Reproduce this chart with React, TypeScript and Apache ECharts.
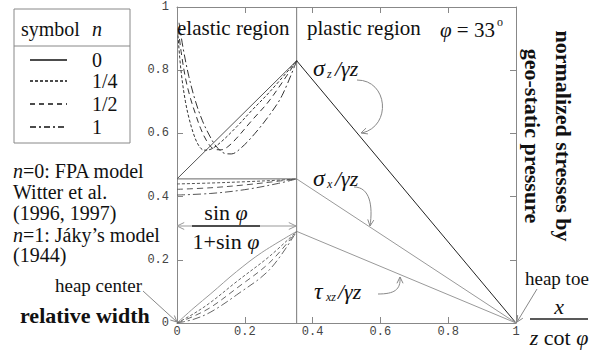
import React, { useEffect, useRef } from "react";
import * as echarts from "echarts";

// ---- data ----
const boundaryX = 0.353; // sinφ/(1+sinφ), φ = 33°
const xTickLabels = ["0", "0.2", "0.4", "0.6", "0.8", "1"];
const yTickLabels = ["0", "0.2", "0.4", "0.6", "0.8", "1"];
const legendNames = ["0", "1/4", "1/2", "1"];

// elastic region, σz/γz
const sigmaZ_n0 = [[0, 0.456], [0.353, 0.83]];
const sigmaZ_n14 = [[0.003, 0.91], [0.008, 0.84], [0.015, 0.77], [0.025, 0.70], [0.035, 0.65], [0.05, 0.595], [0.065, 0.56], [0.08, 0.547], [0.1, 0.55], [0.13, 0.573], [0.176, 0.621], [0.22, 0.672], [0.274, 0.732], [0.353, 0.83]];
const sigmaZ_n12 = [[0.004, 0.93], [0.012, 0.86], [0.025, 0.775], [0.04, 0.71], [0.055, 0.66], [0.07, 0.615], [0.09, 0.572], [0.11, 0.55], [0.13, 0.548], [0.15, 0.558], [0.176, 0.585], [0.22, 0.64], [0.274, 0.706], [0.353, 0.83]];
const sigmaZ_n1 = [[0.006, 0.95], [0.018, 0.87], [0.035, 0.78], [0.055, 0.70], [0.075, 0.64], [0.095, 0.595], [0.115, 0.56], [0.14, 0.537], [0.16, 0.535], [0.19, 0.555], [0.23, 0.6], [0.274, 0.66], [0.31, 0.72], [0.353, 0.83]];

// elastic region, σx/γz
const sigmaX_n0 = [[0, 0.456], [0.353, 0.456]];
const sigmaX_n14 = [[0, 0.44], [0.1, 0.443], [0.2, 0.447], [0.3, 0.452], [0.353, 0.456]];
const sigmaX_n12 = [[0, 0.423], [0.1, 0.428], [0.2, 0.437], [0.3, 0.449], [0.353, 0.456]];
const sigmaX_n1 = [[0, 0.405], [0.1, 0.41], [0.2, 0.422], [0.3, 0.442], [0.353, 0.456]];

// elastic region, τxz/γz
const tau_n0 = [[0, 0], [0.05, 0.048], [0.1, 0.093], [0.176, 0.163], [0.25, 0.223], [0.353, 0.29]];
const tau_n14 = [[0, 0], [0.05, 0.03], [0.1, 0.066], [0.176, 0.131], [0.274, 0.212], [0.353, 0.29]];
const tau_n12 = [[0, 0], [0.05, 0.022], [0.1, 0.05], [0.176, 0.11], [0.274, 0.192], [0.353, 0.29]];
const tau_n1 = [[0, 0], [0.05, 0.012], [0.1, 0.035], [0.176, 0.089], [0.274, 0.17], [0.353, 0.29]];

// plastic region
const plasticSigmaZ = [[0.353, 0.83], [1, 0]];
const plasticSigmaX = [[0.353, 0.456], [1, 0]];
const plasticTau = [[0.353, 0.29], [1, 0]];
const boundaryLine = [[boundaryX, 0], [boundaryX, 1]];

const SERIF = "Liberation Serif";
const DASH = {
  n0: "solid" as any,
  n14: [3, 2],
  n12: [6, 4],
  n1: [8, 3, 2, 3],
};

let measureCtx: CanvasRenderingContext2D | null = null;
function measure(text: string, size: number, italic: boolean, bold = false) {
  if (!measureCtx) measureCtx = document.createElement("canvas").getContext("2d");
  if (!measureCtx) return text.length * size * 0.5;
  measureCtx.font = `${italic ? "italic " : ""}${bold ? "bold " : ""}${size}px "Liberation Serif"`;
  return measureCtx.measureText(text).width;
}

function line(name: string, data: number[][], color: string, type: any, smooth = false, width = 1) {
  return {
    name,
    type: "line",
    data,
    symbol: "none",
    smooth: smooth ? 0.35 : false,
    silent: true,
    lineStyle: { color, width, type },
    z: 3,
  };
}

function txt(x: number, y: number, text: string, size: number, opts: any = {}) {
  const align = opts.align || "left";
  const va = opts.va || "middle";
  return {
    type: "text",
    x,
    y,
    rotation: opts.rotation || 0,
    z: 20,
    style: {
      legacy: false,
      text,
      fontFamily: SERIF,
      fontSize: size,
      fontStyle: opts.italic ? "italic" : "normal",
      fontWeight: opts.bold ? "bold" : "normal",
      fill: opts.color || "#111",
      align,
      verticalAlign: va,
    },
  };
}

// run of mixed italic / upright pieces; parts: [text, italic]
function runs(x: number, y: number, parts: [string, boolean][], size: number, align: "left" | "center" = "left") {
  const widths = parts.map(([t, it]) => measure(t, size, it));
  const total = widths.reduce((a, b) => a + b, 0);
  let cx = align === "center" ? x - total / 2 : x;
  const out: any[] = [];
  parts.forEach(([t, it], k) => {
    out.push(txt(cx, y, t, size, { italic: it }));
    cx += widths[k];
  });
  return out;
}

function seg(x1: number, y1: number, x2: number, y2: number, color = "#888", width = 1, dash?: number[]) {
  return {
    type: "line",
    z: 20,
    shape: { x1, y1, x2, y2 },
    style: { stroke: color, lineWidth: width, lineDash: dash },
  };
}

function head(x: number, y: number, angle: number, color = "#888", len = 7) {
  const a1 = angle + Math.PI - 0.45;
  const a2 = angle + Math.PI + 0.45;
  return {
    type: "polyline",
    z: 20,
    shape: {
      points: [
        [x + len * Math.cos(a1), y + len * Math.sin(a1)],
        [x, y],
        [x + len * Math.cos(a2), y + len * Math.sin(a2)],
      ],
    },
    style: { stroke: color, lineWidth: 1, fill: "none" },
  };
}

function curve(x1: number, y1: number, cpx1: number, cpy1: number, cpx2: number, cpy2: number, x2: number, y2: number) {
  return {
    type: "bezierCurve",
    z: 20,
    shape: { x1, y1, cpx1, cpy1, cpx2, cpy2, x2, y2 },
    style: { stroke: "#888", lineWidth: 1, fill: "none" },
  };
}

export default function App() {
  const ref = useRef<HTMLDivElement>(null);

  useEffect(() => {
    if (!ref.current) return;
    const chart = echarts.init(ref.current, undefined, { renderer: "svg" });

    const axisCommon = {
      type: "value",
      min: 0,
      max: 1,
      interval: 0.2,
      splitLine: { show: false },
      axisLine: { show: true, onZero: false, lineStyle: { color: "#888", width: 1 } },
      axisTick: { show: true, inside: true, length: 6, lineStyle: { color: "#888" } },
    };
    const labelStyle = {
      fontFamily: "Liberation Mono",
      fontSize: 12,
      color: "#444",
    };

    const legendSamples: any[] = [];
    const legendDash = [undefined, [3, 2], [5, 4], [6, 3, 2, 3]];
    legendNames.forEach((nm, i) => {
      const y = [60, 81, 104, 127][i];
      legendSamples.push(seg(30, y, 67, y, "#111", 1.5, legendDash[i] as any));
      legendSamples.push(txt(92, y, nm, 20, {}));
    });

    const option: any = {
      animation: false,
      backgroundColor: "#fff",
      grid: { left: 177, top: 7, width: 339, height: 316, containLabel: false },
      xAxis: [
        {
          ...axisCommon,
          position: "bottom",
          axisLabel: {
            ...labelStyle,
            margin: 3,
            formatter: (v: number) => xTickLabels[Math.round(v / 0.2)],
          },
        },
        { ...axisCommon, position: "top", axisLabel: { show: false } },
      ],
      yAxis: [
        {
          ...axisCommon,
          position: "left",
          axisLabel: {
            ...labelStyle,
            margin: 8,
            formatter: (v: number) => yTickLabels[Math.round(v / 0.2)],
          },
        },
        { ...axisCommon, position: "right", axisLabel: { show: false } },
      ],
      series: [
        line("boundary", boundaryLine, "#777", "solid"),
        line("σz n=0", sigmaZ_n0, "#555", DASH.n0),
        line("σz n=1/4", sigmaZ_n14, "#333", DASH.n14, true),
        line("σz n=1/2", sigmaZ_n12, "#333", DASH.n12, true),
        line("σz n=1", sigmaZ_n1, "#333", DASH.n1, true),
        line("σx n=0", sigmaX_n0, "#666", DASH.n0),
        line("σx n=1/4", sigmaX_n14, "#555", DASH.n14, true),
        line("σx n=1/2", sigmaX_n12, "#555", DASH.n12, true),
        line("σx n=1", sigmaX_n1, "#555", DASH.n1, true),
        line("τ n=0", tau_n0, "#999", DASH.n0, true),
        line("τ n=1/4", tau_n14, "#666", DASH.n14, true),
        line("τ n=1/2", tau_n12, "#666", DASH.n12, true),
        line("τ n=1", tau_n1, "#666", DASH.n1, true),
        line("σz plastic", plasticSigmaZ, "#222", "solid"),
        line("σx plastic", plasticSigmaX, "#999", "solid"),
        line("τ plastic", plasticTau, "#999", "solid"),
      ],
      graphic: [
        // legend table
        {
          type: "rect",
          z: 20,
          shape: { x: 14, y: 9, width: 116, height: 134 },
          style: { stroke: "#888", fill: "#fff", lineWidth: 1 },
        },
        seg(14, 46, 130, 46, "#888", 1),
        txt(21, 29, "symbol", 20),
        txt(92, 29, "n", 20, { italic: true }),
        ...legendSamples,

        // left notes
        ...runs(13, 171, [["n", true], ["=0: FPA model", false]], 20),
        txt(13, 192, "Witter et al.", 20),
        txt(13, 213, "(1996, 1997)", 20),
        ...runs(13, 235, [["n", true], ["=1: Jáky’s model", false]], 20),
        txt(13, 255, "(1944)", 20),
        txt(55, 285, "heap center", 19),
        seg(143, 291, 177, 322, "#888"),
        head(177, 322, Math.atan2(31, 34)),
        txt(20, 315, "relative width", 22, { bold: true }),

        // region titles
        txt(177, 28, "elastic region", 21),
        txt(307, 28, "plastic region", 21),
        ...runs(440, 30, [["φ", true], [" = 33", false]], 21),
        txt(497, 22, "o", 12),

        // right vertical title
        txt(563, 136, "normalized stresses by", 22, { bold: true, align: "center", rotation: -Math.PI / 2 }),
        txt(532, 136, "geo-static pressure", 22, { bold: true, align: "center", rotation: -Math.PI / 2 }),

        // heap toe + x label fraction
        txt(525, 278, "heap toe", 19),
        seg(537, 289, 517, 322, "#888"),
        head(517, 322, Math.atan2(33, -20)),
        txt(559, 306, "x", 22, { italic: true, align: "center" }),
        seg(530, 319, 588, 319, "#222", 1.5),
        ...runs(559, 337, [["z", true], [" cot ", false], ["φ", true]], 22, "center"),

        // σz label
        txt(313, 68, "σ", 24, { italic: true }),
        txt(327, 74, "z", 12, { italic: true }),
        txt(335, 68, "/γz", 22, { italic: true }),
        curve(357, 80, 388, 80, 392, 126, 362, 133),
        head(361, 133, Math.atan2(2, -6)),

        // σx label
        txt(313, 178, "σ", 24, { italic: true }),
        txt(327, 184, "x", 12, { italic: true }),
        txt(335, 178, "/γz", 22, { italic: true }),
        curve(354, 187, 370, 187, 373, 206, 370, 226),
        head(370, 226, Math.atan2(8, -1)),

        // τxz label
        txt(314, 291, "τ", 24, { italic: true }),
        txt(326, 297, "xz", 12, { italic: true }),
        txt(338, 291, "/γz", 22, { italic: true }),
        curve(378, 294, 394, 294, 401, 290, 400, 277),
        head(400, 277, Math.atan2(-8, 0)),

        // sinφ/(1+sinφ) double arrow
        seg(177, 226, 296, 226, "#999", 1),
        head(177, 226, Math.PI, "#999", 8),
        head(296, 226, 0, "#999", 8),
        {
          type: "rect",
          z: 19,
          shape: { x: 189, y: 222, width: 74, height: 9 },
          style: { fill: "#fff", stroke: "none" },
        },
        seg(192, 226, 260, 226, "#222", 1.5),
        ...runs(226, 212, [["sin ", false], ["φ", true]], 22, "center"),
        ...runs(226, 241, [["1+sin ", false], ["φ", true]], 22, "center"),
      ],
    };

    chart.setOption(option);
    return () => chart.dispose();
  }, []);

  return (
    <div
      ref={ref}
      style={{ position: "fixed", left: 0, top: 0, width: 601, height: 353, background: "#fff" }}
    />
  );
}
